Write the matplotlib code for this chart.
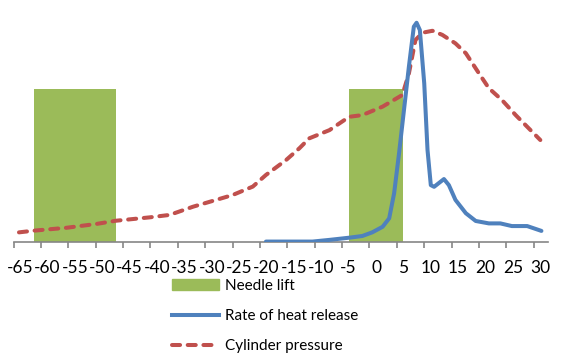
import numpy as np
import matplotlib.pyplot as plt
from matplotlib.patches import Patch
from matplotlib.lines import Line2D

plt.rcParams['font.family'] = ['Lato', 'DejaVu Sans']

# crank angle (deg) / relative values
needle_start = [-62.5, -5.0]
needle_width = [15.0, 10.0]
needle_lift = [63.3, 63.3]

hrr_angle = [-20.1, -11.6, -8.5, -4.9, -2.5, -0.7, 1.2, 2.4, 3.3, 4.2, 5.1, 6.0,
             6.9, 7.4, 8.0, 8.8, 9.4, 10.0, 10.6, 12.4, 13.3, 14.5, 16.4, 18.2,
             20.6, 22.7, 24.8, 27.6, 30.2]
hrr = [0.3, 0.3, 1.0, 1.9, 2.6, 4.1, 6.4, 9.9, 20.2, 36.7, 54.6, 72.5,
       89.0, 90.6, 87.6, 65.6, 38.1, 23.6, 22.9, 26.1, 23.6, 17.5, 12.0, 8.8,
       7.8, 7.8, 6.7, 6.7, 4.7]

p_angle = [-65.2, -62.5, -56.5, -51.0, -47.5, -41.3, -37.7, -33.4, -29.2, -26.2,
           -22.5, -20.1, -16.4, -14.0, -12.2, -8.5, -4.9, -2.5, 1.2, 4.8, 6.0,
           7.2, 8.5, 10.3, 12.1, 14.5, 16.4, 18.8, 20.6, 23.0, 25.5, 27.9, 30.0]
pressure = [4.1, 4.8, 6.0, 7.6, 8.9, 10.3, 11.3, 14.7, 17.5, 19.5,
            23.0, 27.8, 34.0, 38.8, 42.9, 46.3, 51.8, 52.5, 56.0, 60.8, 69.7,
            83.5, 86.5, 87.3, 85.6, 82.1, 78.0, 69.7, 63.6, 58.7, 52.5, 47.0, 42.2]

tick_labels = list(range(-65, 31, 5))

green = '#9BBB59'
blue = '#4F81BD'
red = '#C0504D'

fig = plt.figure(figsize=(5.71, 3.56), dpi=100)
ax = fig.add_axes([13.5 / 571, (356 - 242.3) / 356, (548 - 13.5) / 571, 242.3 / 356])

ax.bar(needle_start, needle_lift, width=needle_width, align='edge', color=green, zorder=1)
ax.plot(hrr_angle, hrr, color=blue, lw=2.9, solid_capstyle='round', zorder=3)
ax.plot(p_angle, pressure, color=red, lw=2.9, dashes=(2.0, 1.9),
        dash_capstyle='round', zorder=2)

ax.set_xlim(-66.2, 31.4)
ax.set_ylim(0, 100)

for s in ['top', 'right', 'left']:
    ax.spines[s].set_visible(False)
ax.spines['bottom'].set_color('#868686')
ax.spines['bottom'].set_linewidth(1.2)
ax.set_yticks([])

ax.set_xticks(tick_labels)
ax.set_xticklabels([str(t) for t in tick_labels])
ax.set_xticks([-66.2 + 5 * k for k in range(20)], minor=True)
ax.tick_params(axis='x', which='major', length=0, pad=13, labelsize=12.5, colors='black')
ax.tick_params(axis='x', which='minor', length=4, width=1.2, color='#868686', direction='out')

handles = [Patch(color=green),
           Line2D([], [], color=blue, lw=2.9),
           Line2D([], [], color=red, lw=2.9, dashes=(2.0, 1.9), dash_capstyle='round')]
labels = ['Needle lift', 'Rate of heat release', 'Cylinder pressure']
fig.legend(handles, labels, loc='upper left', bbox_to_anchor=(172 / 571, 1 - 279 / 356),
           frameon=False, fontsize=11, handlelength=3.1, handletextpad=0.35,
           labelspacing=1.05, borderaxespad=0, borderpad=0)

fig.savefig('out.png', dpi=100)
